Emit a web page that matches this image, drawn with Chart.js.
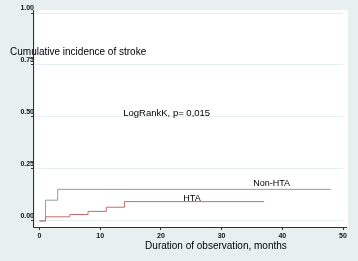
<!DOCTYPE html>
<html>
<head>
<meta charset="utf-8">
<script src="https://cdn.jsdelivr.net/npm/chart.js@4"></script>
<style>
  html, body { margin: 0; padding: 0; background: #e7eff1; }
  #wrap { width: 358px; height: 261px; }
</style>
</head>
<body>
<div id="wrap"><canvas id="km-chart" width="358" height="261"></canvas></div>
<script>
// follow-up time (months) and cumulative incidence
const nonHtaMonths = [0, 1, 3, 48]
const nonHtaIncidence = [0, 0.10, 0.152, 0.152]
const htaMonths = [0, 1, 5, 8, 11, 14, 37]
const htaIncidence = [0, 0.02, 0.031, 0.046, 0.066, 0.093, 0.093]

const xTicks = [0, 10, 20, 30, 40, 50]
const yTicks = [0, 0.25, 0.5, 0.75, 1]

const yTitle = "Cumulative incidence of stroke"
const xTitle = "Duration of observation, months"
const testLabel = "LogRankK, p= 0,015"
const nonHtaLabel = "Non-HTA"
const htaLabel = "HTA"

function toPoints(xs, ys) {
  return xs.map((x, i) => ({ x: x, y: ys[i] }))
}

// texts placed in data units, like the stata graph does
const notes = [
  { text: yTitle, x: -4.85, y: 0.812, size: 10 },
  { text: testLabel, x: 13.8, y: 0.519, size: 9.5 },
  { text: nonHtaLabel, x: 35.2, y: 0.178, size: 9 },
  { text: htaLabel, x: 23.7, y: 0.11, size: 9 },
  { text: xTitle, x: 17.4, y: -0.12, size: 10 }
]

const plotBackground = {
  id: 'plotBackground',
  beforeDraw(chart) {
    const { ctx, chartArea } = chart
    ctx.save()
    ctx.fillStyle = '#e7eff1'
    ctx.fillRect(0, 0, chart.width, chart.height)
    ctx.fillStyle = '#ffffff'
    ctx.fillRect(chartArea.left + 1, chartArea.top - 3, chartArea.right - chartArea.left + 4, chartArea.bottom - chartArea.top + 3)
    ctx.restore()
  }
}

// axis lines drawn by hand, a pixel left of the plot edge so nothing covers them
const axisLines = {
  id: 'axisLines',
  afterDatasetsDraw(chart) {
    const { ctx, chartArea } = chart
    const x = Math.round(chartArea.left) - 0.5
    const y = Math.round(chartArea.bottom) + 0.5
    ctx.save()
    ctx.strokeStyle = '#2e2e2e'
    ctx.lineWidth = 1
    ctx.beginPath()
    ctx.moveTo(x, chartArea.top - 3)
    ctx.lineTo(x, y)
    ctx.lineTo(chartArea.right + 4, y)
    ctx.stroke()
    ctx.restore()
  }
}

const textNotes = {
  id: 'textNotes',
  afterDraw(chart) {
    const ctx = chart.ctx
    const xs = chart.scales.x, ys = chart.scales.y
    ctx.save()
    ctx.fillStyle = '#000000'
    ctx.textAlign = 'left'
    ctx.textBaseline = 'middle'
    notes.forEach(function(n) {
      ctx.font = n.size + 'px "Liberation Sans", Arial, sans-serif'
      ctx.fillText(n.text, xs.getPixelForValue(n.x), ys.getPixelForValue(n.y))
    })
    ctx.restore()
  }
}

const tickFont = { family: '"Liberation Sans", Arial, sans-serif', size: 7, weight: 'bold' }

new Chart(document.getElementById('km-chart').getContext('2d'), {
  type: 'line',
  data: {
    datasets: [
      {
        label: htaLabel,
        data: toPoints(htaMonths, htaIncidence),
        borderColor: '#c96a6a',
        borderWidth: 1,
        stepped: true,
        pointRadius: 0,
        fill: false
      },
      {
        label: nonHtaLabel,
        data: toPoints(nonHtaMonths, nonHtaIncidence),
        borderColor: '#8a9fb2',
        borderWidth: 1,
        stepped: true,
        pointRadius: 0,
        fill: false
      }
    ]
  },
  options: {
    responsive: false,
    animation: false,
    layout: { padding: { top: 13, right: 15, left: 0, bottom: 0 } },
    plugins: {
      legend: { display: false },
      tooltip: { enabled: false }
    },
    scales: {
      x: {
        type: 'linear',
        min: -0.9,
        max: 50,
        afterBuildTicks: (axis) => { axis.ticks = xTicks.map(v => ({ value: v })) },
        afterFit: (axis) => { axis.height = 34 },
        ticks: { color: '#111', font: tickFont, padding: 2, maxRotation: 0 },
        grid: { drawOnChartArea: false, tickLength: 3, tickColor: '#333' },
        border: { display: false }
      },
      y: {
        min: -0.029,
        max: 1,
        afterBuildTicks: (axis) => { axis.ticks = yTicks.map(v => ({ value: v })) },
        afterFit: (axis) => { axis.width = 34 },
        ticks: {
          color: '#111',
          font: tickFont,
          padding: -3,
          labelOffset: -5,
          callback: (v) => v.toFixed(2)
        },
        grid: { color: '#e6eef0', tickLength: 3, tickColor: '#333' },
        border: { display: false }
      }
    }
  },
  plugins: [plotBackground, axisLines, textNotes]
})
</script>
</body>
</html>
